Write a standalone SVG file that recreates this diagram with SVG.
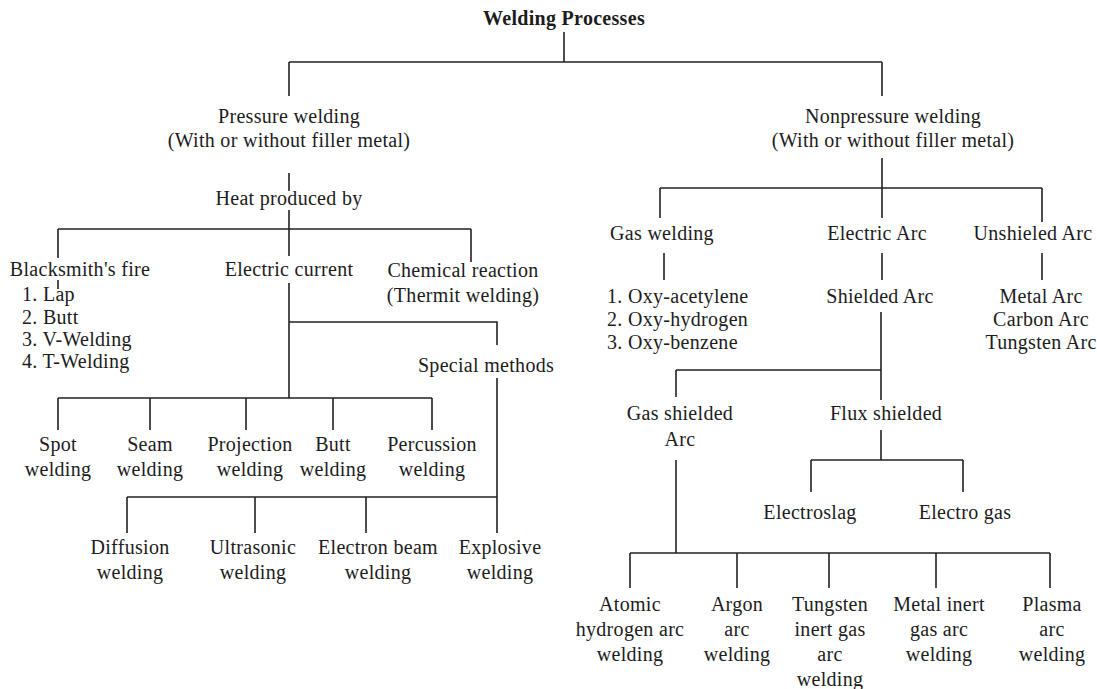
<svg xmlns="http://www.w3.org/2000/svg" width="1097" height="689" viewBox="0 0 1097 689">
<style>
text{font-family:"Liberation Serif","Times New Roman",serif;font-size:20px;fill:#1c1c1c;text-anchor:middle;letter-spacing:0.3px}
.l{text-anchor:start}
.b{font-weight:bold}
.c path{fill:none;stroke:#222;stroke-width:1.6}
</style>
<rect width="1097" height="689" fill="#fff"/>
<g class="c" id="connectors">
<path d="M564,32V62M289,62H882M289,62V96M882,62V96"/>
<path d="M289,173V191M289,210V229M58,229H471M58,229V258M289,229V256M471,229V262"/>
<path d="M58,280V289"/>
<path d="M289,283V398M289,322H497V345M497,378V533M58,398H432M58,398V430M150,398V430M246,398V430M333,398V430M432,398V430"/>
<path d="M127,497H497M127,497V533M255,497V533M366,497V533"/>
<path d="M882,158V218M660,188H1042M660,188V218M1042,188V222"/>
<path d="M664,253V280M882,253V280M1042,253V280"/>
<path d="M881,312V400M676,370H881M676,370V397"/>
<path d="M881,430V460M811,460H963M811,460V492M963,460V492"/>
<path d="M676,460V553M630,553H1050M630,553V588M737,553V588M829,553V588M936,553V588M1050,553V588"/>
</g>
<g id="n-root"><text class="b" x="564" y="25">Welding Processes</text></g>
<g id="n-pressure"><text x="289" y="123">Pressure welding</text><text x="289" y="147">(With or without filler metal)</text></g>
<g id="n-heat"><text x="289" y="205">Heat produced by</text></g>
<g id="n-blacksmith"><text x="80" y="276">Blacksmith's fire</text></g>
<g id="n-blacksmith-list"><text class="l" x="22" y="301">1. Lap</text><text class="l" x="22" y="324">2. Butt</text><text class="l" x="22" y="346">3. V-Welding</text><text class="l" x="22" y="368">4. T-Welding</text></g>
<g id="n-electric"><text x="289" y="276">Electric current</text></g>
<g id="n-chemical"><text x="463" y="277">Chemical reaction</text><text x="463" y="302">(Thermit welding)</text></g>
<g id="n-special"><text x="486" y="372">Special methods</text></g>
<g id="n-spot"><text x="58" y="451">Spot</text><text x="58" y="476">welding</text></g>
<g id="n-seam"><text x="150" y="451">Seam</text><text x="150" y="476">welding</text></g>
<g id="n-projection"><text x="250" y="451">Projection</text><text x="250" y="476">welding</text></g>
<g id="n-butt"><text x="333" y="451">Butt</text><text x="333" y="476">welding</text></g>
<g id="n-percussion"><text x="432" y="451">Percussion</text><text x="432" y="476">welding</text></g>
<g id="n-diffusion"><text x="130" y="554">Diffusion</text><text x="130" y="579">welding</text></g>
<g id="n-ultrasonic"><text x="253" y="554">Ultrasonic</text><text x="253" y="579">welding</text></g>
<g id="n-ebeam"><text x="378" y="554">Electron beam</text><text x="378" y="579">welding</text></g>
<g id="n-explosive"><text x="500" y="554">Explosive</text><text x="500" y="579">welding</text></g>
<g id="n-nonpressure"><text x="893" y="123">Nonpressure welding</text><text x="893" y="147">(With or without filler metal)</text></g>
<g id="n-gas"><text x="662" y="240">Gas welding</text></g>
<g id="n-gas-list"><text class="l" x="607" y="303">1. Oxy-acetylene</text><text class="l" x="607" y="326">2. Oxy-hydrogen</text><text class="l" x="607" y="349">3. Oxy-benzene</text></g>
<g id="n-earc"><text x="877" y="240">Electric Arc</text></g>
<g id="n-unshielded"><text x="1033" y="240">Unshieled Arc</text></g>
<g id="n-unshielded-list"><text x="1041" y="303">Metal Arc</text><text x="1041" y="326">Carbon Arc</text><text x="1041" y="349">Tungsten Arc</text></g>
<g id="n-shielded"><text x="880" y="303">Shielded Arc</text></g>
<g id="n-gasshielded"><text x="680" y="420">Gas shielded</text><text x="680" y="446">Arc</text></g>
<g id="n-flux"><text x="886" y="420">Flux shielded</text></g>
<g id="n-electroslag"><text x="810" y="519">Electroslag</text></g>
<g id="n-electrogas"><text x="965" y="519">Electro gas</text></g>
<g id="n-atomic"><text x="630" y="611">Atomic</text><text x="630" y="636">hydrogen arc</text><text x="630" y="661">welding</text></g>
<g id="n-argon"><text x="737" y="611">Argon</text><text x="737" y="636">arc</text><text x="737" y="661">welding</text></g>
<g id="n-tig"><text x="830" y="611">Tungsten</text><text x="830" y="636">inert gas</text><text x="830" y="661">arc</text><text x="830" y="686">welding</text></g>
<g id="n-mig"><text x="939" y="611">Metal inert</text><text x="939" y="636">gas arc</text><text x="939" y="661">welding</text></g>
<g id="n-plasma"><text x="1052" y="611">Plasma</text><text x="1052" y="636">arc</text><text x="1052" y="661">welding</text></g>
</svg>
